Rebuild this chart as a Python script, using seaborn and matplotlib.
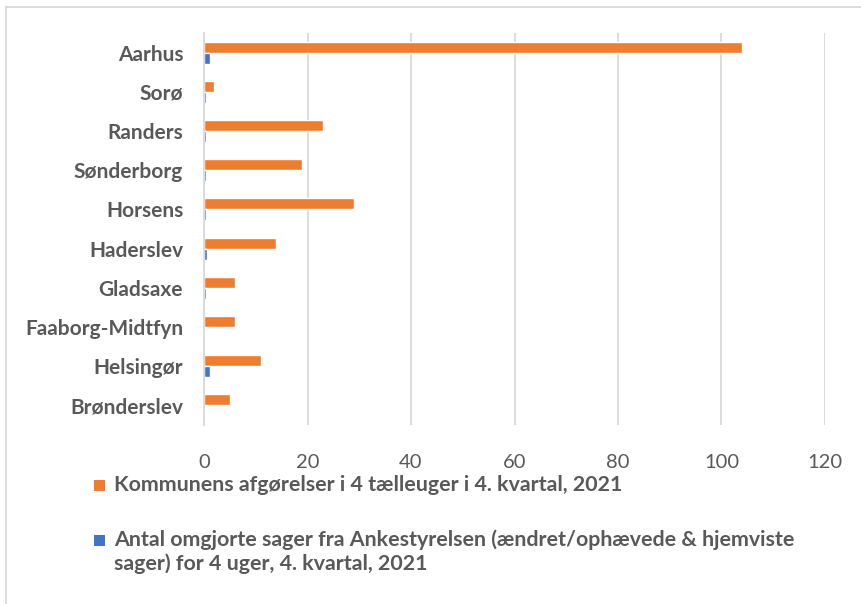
import matplotlib
matplotlib.use("Agg")
import matplotlib.pyplot as plt
import seaborn as sns
import pandas as pd
from matplotlib.patches import Rectangle

kommuner = ["Aarhus", "Sorø", "Randers", "Sønderborg", "Horsens", "Haderslev",
            "Gladsaxe", "Faaborg-Midtfyn", "Helsingør", "Brønderslev"]
afgoerelser = [104, 2, 23, 19, 29, 14, 6, 6, 11, 5]
omgjorte = [1.2, 0.3, 0.3, 0.3, 0.3, 0.6, 0.3, 0, 1.2, 0]
serie_navne = ["Kommunens afgørelser i 4 tælleuger i 4. kvartal, 2021",
               "Antal omgjorte sager fra Ankestyrelsen (ændret/ophævede & hjemviste\nsager) for 4 uger, 4. kvartal, 2021"]
xticks = [0, 20, 40, 60, 80, 100, 120]

df = pd.DataFrame({
    "Kommune": kommuner * 2,
    "Værdi": afgoerelser + omgjorte,
    "Serie": [serie_navne[0]] * len(kommuner) + [serie_navne[1]] * len(kommuner),
})

sns.set_theme(style="white")
plt.rcParams["font.family"] = ["Lato", "DejaVu Sans"]

W, H = 861, 604
fig = plt.figure(figsize=(W / 100, H / 100), dpi=100)
ax = fig.add_axes([204 / W, 1 - 425 / H, (825 - 204) / W, (425 - 33) / H])

palette = {serie_navne[0]: "#ED7D31", serie_navne[1]: "#4472C4"}
sns.barplot(data=df, y="Kommune", x="Værdi", hue="Serie", order=kommuner,
            hue_order=serie_navne, palette=palette, orient="h", width=0.56,
            saturation=1, ax=ax, legend=False)

ax.set_xlim(0, 120)
ax.set_xticks(xticks)
ax.set_xticklabels([str(v) for v in xticks])
ax.xaxis.grid(True, color="#d9d9d9", linewidth=1.3)
ax.set_axisbelow(True)
for s in ["top", "right", "bottom"]:
    ax.spines[s].set_visible(False)
ax.spines["left"].set_color("#d9d9d9")
ax.spines["left"].set_linewidth(1.3)
ax.set_xlabel("")
ax.set_ylabel("")
ax.tick_params(axis="x", length=0, pad=21, labelsize=14.5, labelcolor="#595959")
ax.tick_params(axis="y", length=0, pad=15, labelsize=15, labelcolor="#595959")
for lbl in ax.get_yticklabels():
    lbl.set_fontweight("bold")

# Legend (manual, to place the marker at the first text line)
legend_rows = [(serie_navne[0], 485.5, [491]), (serie_navne[1], 540.5, [546, 570.5])]
for name, sq_center, baselines in legend_rows:
    fig.patches.append(Rectangle((94 / W, 1 - (sq_center + 5.5) / H), 11 / W, 11 / H,
                                 transform=fig.transFigure, facecolor=palette[name],
                                 edgecolor="none"))
    for line, b in zip(name.split("\n"), baselines):
        fig.text(114 / W, 1 - b / H, line, fontsize=15.4, fontweight="bold",
                 color="#595959", ha="left", va="baseline")

fig.patches.append(Rectangle((6 / W, -0.05), 1.1, 1 - 7 / H + 0.05,
                             transform=fig.transFigure, fill=False,
                             edgecolor="#d9d9d9", linewidth=1.3))

fig.savefig("out.png", dpi=100)
